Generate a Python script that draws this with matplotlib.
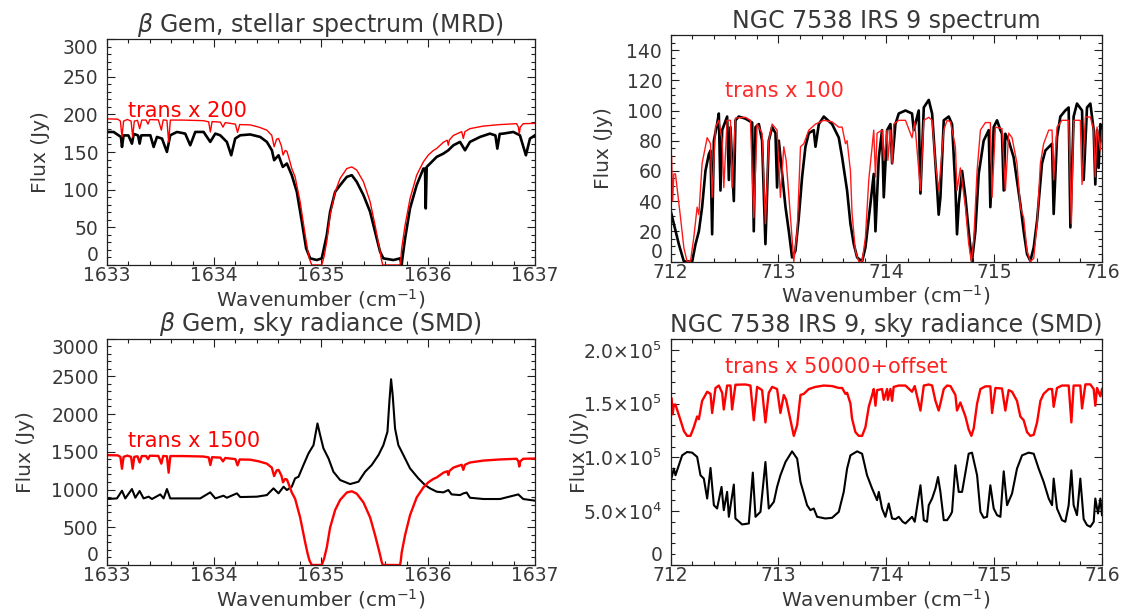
import matplotlib.pyplot as plt
from matplotlib.ticker import MultipleLocator

# ---- beta Gem, 1633-1637 cm-1 ----
# telluric transmission (same curve is shown x200 and x1500)
bgem_trans_wn = [1633.000, 1633.100, 1633.125, 1633.140, 1633.155, 1633.190, 1633.225, 1633.240,
                 1633.255, 1633.285, 1633.305, 1633.325, 1633.365, 1633.383, 1633.400, 1633.480,
                 1633.508, 1633.525, 1633.560, 1633.576, 1633.592, 1633.700, 1633.900, 1633.950,
                 1633.966, 1633.982, 1634.060, 1634.084, 1634.105, 1634.200, 1634.220, 1634.240,
                 1634.338, 1634.420, 1634.494, 1634.540, 1634.562, 1634.585, 1634.603, 1634.630,
                 1634.645, 1634.665, 1634.681, 1634.700, 1634.727, 1634.758, 1634.805, 1634.852,
                 1634.875, 1634.892, 1634.914, 1635.007, 1635.030, 1635.054, 1635.085, 1635.132,
                 1635.179, 1635.241, 1635.288, 1635.334, 1635.397, 1635.459, 1635.505, 1635.552,
                 1635.565, 1635.577, 1635.739, 1635.746, 1635.754, 1635.786, 1635.832, 1635.894,
                 1635.957, 1636.003, 1636.050, 1636.081, 1636.144, 1636.180, 1636.190, 1636.200,
                 1636.237, 1636.315, 1636.330, 1636.345, 1636.392, 1636.517, 1636.673, 1636.828,
                 1636.845, 1636.853, 1636.862, 1636.890, 1637.000]
bgem_trans = [0.970, 0.968, 0.955, 0.850, 0.955, 0.966, 0.955, 0.850,
              0.955, 0.960, 0.905, 0.962, 0.962, 0.935, 0.965, 0.963,
              0.895, 0.963, 0.960, 0.815, 0.962, 0.962, 0.958, 0.950,
              0.883, 0.952, 0.948, 0.915, 0.945, 0.935, 0.880, 0.932,
              0.930, 0.915, 0.895, 0.860, 0.785, 0.835, 0.840, 0.790,
              0.730, 0.760, 0.755, 0.710, 0.640, 0.585, 0.420, 0.200,
              0.100, 0.040, 0.000, 0.000, 0.060, 0.155, 0.330, 0.485,
              0.575, 0.640, 0.651, 0.630, 0.552, 0.420, 0.265, 0.090,
              0.035, 0.000, 0.000, 0.040, 0.110, 0.265, 0.440, 0.596,
              0.685, 0.730, 0.760, 0.773, 0.815, 0.828, 0.795, 0.830,
              0.860, 0.885, 0.840, 0.885, 0.905, 0.922, 0.932, 0.938,
              0.915, 0.870, 0.915, 0.938, 0.940]

# stellar spectrum (Jy)
bgem_star_wn = [1633.000, 1633.062, 1633.130, 1633.140, 1633.155, 1633.200, 1633.233, 1633.250,
                1633.290, 1633.305, 1633.320, 1633.342, 1633.405, 1633.436, 1633.467, 1633.514,
                1633.560, 1633.591, 1633.654, 1633.731, 1633.778, 1633.825, 1633.903, 1633.965,
                1634.012, 1634.058, 1634.120, 1634.161, 1634.198, 1634.245, 1634.338, 1634.432,
                1634.494, 1634.541, 1634.562, 1634.603, 1634.643, 1634.681, 1634.727, 1634.774,
                1634.821, 1634.861, 1634.899, 1634.961, 1635.007, 1635.054, 1635.085, 1635.132,
                1635.179, 1635.241, 1635.288, 1635.334, 1635.397, 1635.459, 1635.505, 1635.552,
                1635.583, 1635.677, 1635.739, 1635.754, 1635.760, 1635.786, 1635.832, 1635.894,
                1635.957, 1635.972, 1635.979, 1635.988, 1636.035, 1636.081, 1636.144, 1636.190,
                1636.237, 1636.299, 1636.346, 1636.392, 1636.486, 1636.579, 1636.630, 1636.648,
                1636.670, 1636.704, 1636.797, 1636.859, 1636.915, 1636.953, 1637.000]
bgem_star_flux = [176.6, 176.6, 170.0, 156.7, 172.0, 172.0, 161.1, 174.0,
                  172.0, 161.1, 172.0, 172.2, 172.2, 156.7, 170.0, 167.8,
                  150.1, 172.2, 176.6, 174.4, 158.9, 176.6, 176.6, 163.4,
                  174.4, 172.2, 163.4, 145.7, 167.8, 172.2, 173.3, 170.0,
                  163.4, 152.3, 139.1, 145.7, 130.2, 134.7, 119.2, 97.1,
                  57.4, 22.1, 8.8, 6.6, 8.8, 39.7, 70.6, 97.1,
                  106.0, 117.0, 119.2, 110.4, 92.7, 70.6, 44.2, 17.7,
                  8.8, 6.6, 8.8, 0.0, 8.0, 35.3, 75.1, 106.0,
                  128.0, 128.0, 75.1, 130.2, 136.9, 143.5, 147.9, 152.3,
                  158.9, 163.4, 152.3, 163.4, 170.0, 174.4, 172.0, 154.5,
                  174.0, 174.4, 176.6, 172.2, 145.7, 167.8, 172.2]

# sky radiance (Jy)
bgem_sky_wn = [1633.000, 1633.093, 1633.140, 1633.171, 1633.233, 1633.265, 1633.305, 1633.342,
               1633.389, 1633.420, 1633.498, 1633.529, 1633.560, 1633.591, 1633.871, 1633.965,
               1634.012, 1634.089, 1634.120, 1634.214, 1634.245, 1634.401, 1634.494, 1634.556,
               1634.603, 1634.650, 1634.681, 1634.727, 1634.758, 1634.790, 1634.836, 1634.883,
               1634.930, 1634.967, 1634.992, 1635.023, 1635.070, 1635.116, 1635.179, 1635.272,
               1635.350, 1635.412, 1635.474, 1635.537, 1635.583, 1635.621, 1635.639, 1635.655,
               1635.670, 1635.692, 1635.723, 1635.770, 1635.832, 1635.910, 1635.972, 1636.019,
               1636.081, 1636.144, 1636.190, 1636.221, 1636.299, 1636.330, 1636.361, 1636.392,
               1636.517, 1636.673, 1636.844, 1636.890, 1637.000]
bgem_sky_flux = [874, 882, 984, 882, 1006, 891, 980, 882,
                 905, 874, 935, 882, 1006, 882, 882, 962,
                 882, 918, 891, 949, 900, 905, 926, 1015,
                 949, 1037, 993, 1037, 1147, 1169, 1324, 1478,
                 1588, 1875, 1721, 1544, 1412, 1235, 1125, 1072,
                 1103, 1235, 1324, 1456, 1588, 1765, 2162, 2460,
                 2250, 1809, 1588, 1456, 1280, 1147, 1059, 1015,
                 971, 962, 993, 935, 926, 948, 960, 891,
                 874, 874, 935, 874, 852]

# ---- NGC 7538 IRS 9, 712-716 cm-1 ----
# telluric transmission (shown x100, and x50000 + offset)
irs9_trans_wn = [712.000, 712.010, 712.020, 712.031, 712.046, 712.093, 712.124, 712.154,
                 712.185, 712.216, 712.247, 712.263, 712.293, 712.340, 712.371, 712.386,
                 712.417, 712.448, 712.479, 712.494, 712.525, 712.556, 712.571, 712.602,
                 712.695, 712.741, 712.772, 712.803, 712.849, 712.880, 712.911, 712.942,
                 712.988, 713.019, 713.050, 713.072, 713.103, 713.143, 713.174, 713.205,
                 713.236, 713.282, 713.344, 713.421, 713.498, 713.560, 713.591, 713.622,
                 713.637, 713.668, 713.683, 713.714, 713.745, 713.776, 713.807, 713.838,
                 713.869, 713.884, 713.900, 713.915, 713.961, 713.977, 714.008, 714.015,
                 714.039, 714.054, 714.069, 714.116, 714.178, 714.239, 714.264, 714.317,
                 714.348, 714.394, 714.425, 714.456, 714.486, 714.502, 714.533, 714.564,
                 714.595, 714.641, 714.656, 714.687, 714.734, 714.764, 714.789, 714.811,
                 714.842, 714.873, 714.919, 714.965, 714.981, 715.012, 715.073, 715.104,
                 715.135, 715.166, 715.212, 715.243, 715.274, 715.305, 715.336, 715.367,
                 715.398, 715.429, 715.459, 715.506, 715.537, 715.552, 715.583, 715.629,
                 715.691, 715.716, 715.737, 715.799, 715.815, 715.846, 715.892, 715.923,
                 715.938, 715.954, 715.985, 716.000]
irs9_trans = [0.71, 0.70, 0.40, 0.58, 0.58, 0.29, 0.09, 0.00,
              0.00, 0.16, 0.36, 0.31, 0.65, 0.82, 0.78, 0.425,
              0.89, 0.935, 0.80, 0.49, 0.935, 0.935, 0.49, 0.95,
              0.955, 0.935, 0.29, 0.91, 0.85, 0.25, 0.80, 0.91,
              0.87, 0.425, 0.76, 0.67, 0.38, 0.00, 0.20, 0.76,
              0.78, 0.87, 0.91, 0.935, 0.925, 0.89, 0.89, 0.78,
              0.80, 0.60, 0.32, 0.07, 0.00, 0.00, 0.16, 0.54,
              0.76, 0.87, 0.56, 0.85, 0.87, 0.67, 0.87, 0.67,
              0.87, 0.65, 0.91, 0.935, 0.935, 0.82, 0.925, 0.47,
              0.935, 0.955, 0.935, 0.65, 0.47, 0.60, 0.87, 0.935,
              0.925, 0.76, 0.47, 0.62, 0.36, 0.12, 0.00, 0.14,
              0.60, 0.87, 0.92, 0.92, 0.425, 0.89, 0.88, 0.47,
              0.85, 0.82, 0.65, 0.36, 0.29, 0.07, 0.00, 0.02,
              0.25, 0.65, 0.78, 0.87, 0.87, 0.54, 0.89, 0.935,
              0.935, 0.25, 0.935, 0.935, 0.51, 0.957, 0.957, 0.87,
              0.56, 0.89, 0.735, 0.87]

# source spectrum (Jy)
irs9_src_wn = [712.000, 712.031, 712.077, 712.124, 712.201, 712.232, 712.263, 712.293,
               712.324, 712.355, 712.371, 712.386, 712.402, 712.432, 712.448, 712.463,
               712.479, 712.525, 712.541, 712.556, 712.587, 712.602, 712.633, 712.695,
               712.757, 712.772, 712.788, 712.819, 712.849, 712.880, 712.911, 712.942,
               712.973, 712.988, 713.004, 713.035, 713.066, 713.097, 713.127, 713.158,
               713.189, 713.220, 713.251, 713.282, 713.328, 713.344, 713.375, 713.421,
               713.498, 713.560, 713.591, 713.637, 713.668, 713.699, 713.730, 713.776,
               713.807, 713.853, 713.884, 713.900, 713.931, 713.961, 713.977, 714.008,
               714.039, 714.054, 714.085, 714.116, 714.178, 714.239, 714.255, 714.301,
               714.317, 714.348, 714.394, 714.425, 714.440, 714.471, 714.486, 714.502,
               714.533, 714.579, 714.610, 714.641, 714.656, 714.672, 714.703, 714.734,
               714.764, 714.795, 714.826, 714.857, 714.903, 714.950, 714.965, 714.996,
               715.027, 715.058, 715.073, 715.089, 715.104, 715.135, 715.181, 715.212,
               715.243, 715.274, 715.305, 715.336, 715.367, 715.398, 715.444, 715.475,
               715.537, 715.552, 715.583, 715.614, 715.660, 715.691, 715.707, 715.737,
               715.768, 715.815, 715.830, 715.861, 715.892, 715.923, 715.938, 715.954,
               715.969, 715.985, 716.000]
irs9_src_flux = [34, 25, 11.5, 0, 0, 11.5, 20, 36,
                 60, 71, 73.5, 18, 80, 91, 98, 47,
                 87, 96, 54, 89, 40, 93.5, 96, 94.6,
                 92, 20, 89, 91, 80, 11.5, 80, 89,
                 85, 49, 80, 58, 36, 20, 2.7, 7,
                 29, 56, 76, 85, 87, 76, 91, 96,
                 91, 82, 69, 47, 25, 11.5, 2.7, 0,
                 9.3, 38, 58, 20, 69, 87, 42.5, 87,
                 91, 65, 91, 98, 100, 98, 87, 100,
                 45, 102, 107, 98, 82, 49, 31, 42.5,
                 93.5, 96, 91, 49, 18, 38, 60, 42.5,
                 20, 0.4, 20, 58, 80, 87, 36, 89,
                 93.5, 87, 84.6, 47, 84.6, 80, 69, 53.6,
                 38, 20, 4.9, 0.4, 9.3, 27, 65, 73.5,
                 78, 31.5, 82.4, 96, 100, 102, 22.6, 96,
                 104.6, 100, 54, 102, 104.6, 87, 51, 87,
                 62, 91, 80]

# sky radiance (Jy)
irs9_sky_wn = [712.000, 712.031, 712.046, 712.077, 712.108, 712.154, 712.201, 712.247,
               712.278, 712.309, 712.340, 712.371, 712.402, 712.432, 712.473, 712.494,
               712.525, 712.541, 712.587, 712.602, 712.664, 712.726, 712.763, 712.788,
               712.834, 712.880, 712.911, 712.958, 712.988, 713.019, 713.066, 713.127,
               713.174, 713.205, 713.236, 713.266, 713.297, 713.328, 713.359, 713.436,
               713.498, 713.560, 713.606, 713.637, 713.668, 713.730, 713.776, 713.822,
               713.869, 713.915, 713.931, 713.961, 713.992, 714.023, 714.054, 714.085,
               714.116, 714.153, 714.178, 714.239, 714.264, 714.317, 714.348, 714.378,
               714.394, 714.425, 714.456, 714.480, 714.502, 714.533, 714.564, 714.595,
               714.610, 714.641, 714.672, 714.703, 714.764, 714.795, 714.842, 714.873,
               714.903, 714.934, 714.965, 714.996, 715.027, 715.058, 715.089, 715.120,
               715.166, 715.212, 715.259, 715.320, 715.367, 715.413, 715.459, 715.506,
               715.537, 715.552, 715.583, 715.629, 715.660, 715.691, 715.716, 715.737,
               715.768, 715.799, 715.830, 715.861, 715.892, 715.923, 715.938, 715.963,
               715.985, 716.000]
irs9_sky_flux = [77200, 89550, 83380, 92640, 101900, 105000, 104400, 100400,
                 83380, 80290, 61760, 90170, 55580, 52500, 72570, 50950,
                 67940, 44780, 74730, 43230, 37670, 38600, 85850, 44780,
                 49410, 95730, 52500, 58670, 72570, 83380, 95730, 105600,
                 98820, 77200, 66390, 55580, 50950, 52500, 44780, 43230,
                 43850, 49410, 67940, 89550, 101900, 105600, 103400, 83380,
                 71020, 60220, 67940, 52500, 44780, 57130, 43230, 42610,
                 44780, 40140, 38600, 44780, 40140, 74100, 41690, 40140,
                 55580, 61760, 71020, 81750, 67940, 41690, 41690, 46320,
                 49410, 92640, 67940, 67940, 103400, 104400, 83380, 49410,
                 43850, 44780, 74100, 52500, 46320, 44780, 87080, 55580,
                 66390, 89550, 101900, 104400, 103400, 89550, 77200, 61760,
                 55580, 80290, 52500, 41690, 40140, 55580, 87980, 55580,
                 46320, 80290, 42610, 37060, 35510, 40140, 61760, 47860,
                 61760, 46320]

irs9_offset = 1.2e5

TXT = '#383838'
FS_TICK = 13.5
FS_LAB = 14.5
FS_TITLE = 17
FS_NOTE = 15

plt.rcParams['font.family'] = ['DejaVu Sans']
plt.rcParams['mathtext.fontset'] = 'dejavusans'

fig = plt.figure(figsize=(11.43, 6.11), dpi=100)
W, H = 1143.0, 611.0


def make_axes(left, right, top, bottom):
    return fig.add_axes([left / W, 1 - bottom / H, (right - left) / W, (bottom - top) / H])


def style(ax, xlim, xticks, ylim, yticks, ylabels, yminor, ylab_x, title):
    ax.set_xlim(xlim)
    ax.set_ylim(ylim)
    ax.set_xticks(xticks)
    ax.set_xticklabels([str(t) for t in xticks])
    ax.xaxis.set_minor_locator(MultipleLocator(0.2))
    ax.set_yticks(yticks)
    ax.set_yticklabels(ylabels)
    ax.yaxis.set_minor_locator(MultipleLocator(yminor))
    ax.tick_params(which='both', direction='in', top=True, right=True,
                   color='#202020', width=0.8, labelsize=FS_TICK, labelcolor=TXT)
    ax.tick_params(which='major', length=6)
    ax.tick_params(which='minor', length=3)
    ax.tick_params(axis='x', pad=1)
    ax.tick_params(axis='y', pad=6)
    for s in ax.spines.values():
        s.set_linewidth(0.9)
        s.set_color('#202020')
    # end labels sit inside the axis range
    labs = ax.get_yticklabels()
    if yticks[0] == ylim[0]:
        labs[0].set_verticalalignment('bottom')
    if yticks[-1] == ylim[1]:
        labs[-1].set_verticalalignment('top')
    ax.set_xlabel(r'Wavenumber (cm$^{-1}$)', fontsize=FS_LAB, color=TXT)
    ax.xaxis.set_label_coords(0.5, -0.097)
    ax.set_ylabel('Flux (Jy)', fontsize=FS_LAB, color=TXT)
    ax.yaxis.set_label_coords(ylab_x, 0.5)
    ax.set_title(title, fontsize=FS_TITLE, color=TXT, pad=5)


bx = [1633, 1634, 1635, 1636, 1637]
nx = [712, 713, 714, 715, 716]

# top left: beta Gem stellar spectrum
ax1 = make_axes(107, 535, 39, 265)
ax1.plot(bgem_star_wn, bgem_star_flux, color='black', lw=1.9)
ax1.plot(bgem_trans_wn, [t * 200 for t in bgem_trans], color='red', lw=1.0)
style(ax1, (1633, 1637), bx, (0, 300), list(range(0, 301, 50)),
      [str(v) for v in range(0, 301, 50)], 10, -0.133,
      r'$\beta$ Gem, stellar spectrum (MRD)')
ax1.text(0.05, 0.655, 'trans x 200', color='red', fontsize=FS_NOTE, transform=ax1.transAxes)

# top right: NGC 7538 IRS 9 spectrum
ax2 = make_axes(670.5, 1102, 35, 261.5)
ax2.plot(irs9_src_wn, irs9_src_flux, color='black', lw=1.9)
ax2.plot(irs9_trans_wn, [t * 100 for t in irs9_trans], color='#ff1a1a', lw=1.0)
style(ax2, (712, 716), nx, (0, 150), list(range(0, 141, 20)),
      [str(v) for v in range(0, 141, 20)], 5, -0.133,
      'NGC 7538 IRS 9 spectrum')
ax2.text(0.126, 0.727, 'trans x 100', color='#ff2a2a', fontsize=FS_NOTE, transform=ax2.transAxes)

# bottom left: beta Gem sky radiance
ax3 = make_axes(107, 535, 338.5, 565)
ax3.plot(bgem_sky_wn, bgem_sky_flux, color='black', lw=1.5)
ax3.plot(bgem_trans_wn, [t * 1500 for t in bgem_trans], color='red', lw=1.7)
style(ax3, (1633, 1637), bx, (0, 3000), list(range(0, 3001, 500)),
      [str(v) for v in range(0, 3001, 500)], 100, -0.168,
      r'$\beta$ Gem, sky radiance (SMD)')
ax3.text(0.05, 0.521, 'trans x 1500', color='red', fontsize=FS_NOTE, transform=ax3.transAxes)

# bottom right: NGC 7538 IRS 9 sky radiance
ax4 = make_axes(670.5, 1102, 339, 565)
ax4.plot(irs9_sky_wn, irs9_sky_flux, color='black', lw=1.5)
ax4.plot(irs9_trans_wn, [irs9_offset + t * 50000 for t in irs9_trans], color='red', lw=1.7)
style(ax4, (712, 716), nx, (0, 2.1e5), [0, 5e4, 1e5, 1.5e5, 2e5],
      ['0', r'5.0$\times$10$^4$', r'1.0$\times$10$^5$', r'1.5$\times$10$^5$', r'2.0$\times$10$^5$'],
      1e4, -0.19, 'NGC 7538 IRS 9, sky radiance (SMD)')
ax4.text(0.126, 0.85, 'trans x 50000+offset', color='#ff2020', fontsize=FS_NOTE, transform=ax4.transAxes)

fig.savefig('out.png', dpi=100)
